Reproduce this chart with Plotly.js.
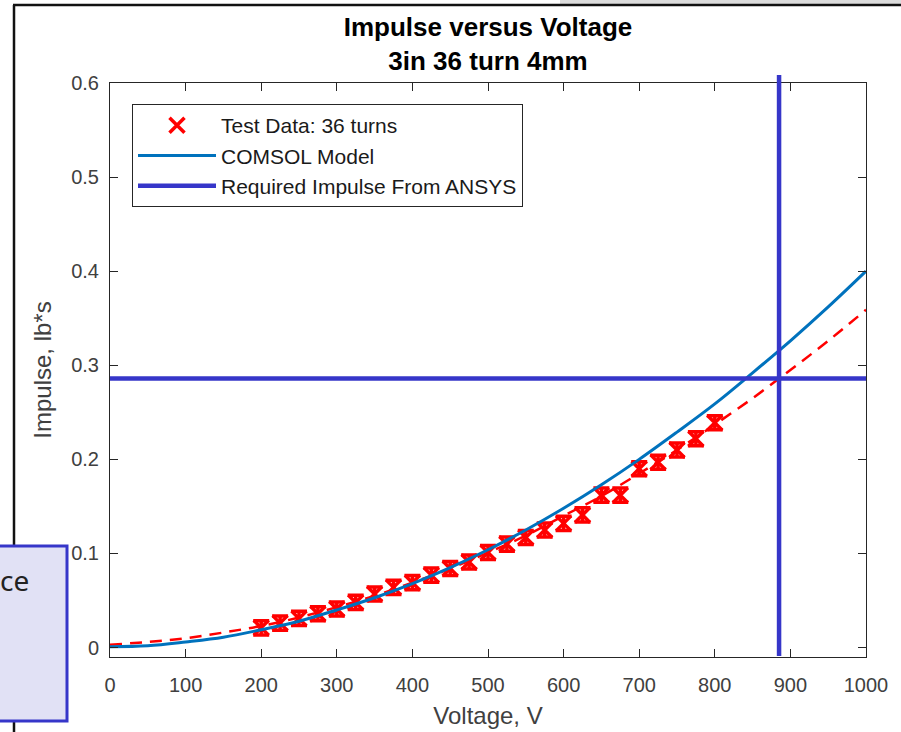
<!DOCTYPE html>
<html>
<head>
<meta charset="utf-8">
<script src="https://cdn.plot.ly/plotly-3.0.1.min.js"></script>
<style>html,body{margin:0;padding:0;background:#fff;}#chart{width:901px;height:732px;}</style>
</head>
<body>
<div id="chart"></div>
<script>
// ---- data ----
const testVoltage = [200,225,250,275,300,325,350,375,400,425,450,475,500,525,550,575,600,625,650,675,700,725,750,775,800];
const testImpulse = [0.021,0.026,0.031,0.036,0.041,0.048,0.057,0.064,0.069,0.077,0.084,0.091,0.101,0.110,0.117,0.125,0.132,0.141,0.162,0.162,0.190,0.197,0.210,0.222,0.239];
const testSpread  = [0.0075,0.0075,0.0075,0.0075,0.0075,0.0075,0.0075,0.0075,0.0075,0.0075,0.0075,0.0075,0.0075,0.0075,0.0075,0.0075,0.0075,0.0075,0.0075,0.0075,0.0075,0.0075,0.0075,0.0075,0.0075];

const curveVoltage = [0,50,100,150,200,250,300,350,400,450,500,550,600,650,700,750,800,850,900,950,1000];
const comsolImpulse = [0.001,0.002,0.006,0.011,0.019,0.028,0.040,0.053,0.068,0.085,0.104,0.125,0.148,0.173,0.200,0.229,0.259,0.292,0.326,0.362,0.400];
const fitImpulse    = [0.003,0.006,0.010,0.016,0.023,0.032,0.043,0.055,0.069,0.084,0.101,0.119,0.140,0.161,0.185,0.210,0.237,0.265,0.295,0.326,0.359];

const requiredVoltageRange = [0,1000];
const requiredImpulse = 0.286;
const requiredVoltage = 885;

const xTicks = [0,100,200,300,400,500,600,700,800,900,1000];
const yTicks = [0,0.1,0.2,0.3,0.4,0.5,0.6];
const yTickText = ['0','0.1','0.2','0.3','0.4','0.5','0.6'];

// ---- chart ----
const RED = '#ff0000', MBLUE = '#0072bd', ANSYS = '#3636c9', AX = '#262626';
const px = v => (v - 110) / 756;          // paper x for decorations
const py = v => (657 - v) / 574;          // paper y for decorations

const traces = [
  {
    x: curveVoltage, y: fitImpulse, type: 'scatter', mode: 'lines',
    showlegend: false, line: {color: RED, width: 2.5, dash: '12px,8px', shape: 'spline'}
  },
  {
    x: testVoltage, y: testImpulse, type: 'scatter', mode: 'markers',
    name: 'Test Data: 36 turns',
    marker: {symbol: 'x-thin-open', size: 15, color: RED, line: {color: RED, width: 3.5}},
    error_y: {type: 'data', array: testSpread, visible: true, color: RED, thickness: 3.5, width: 8}
  },
  {
    x: curveVoltage, y: comsolImpulse, type: 'scatter', mode: 'lines',
    name: 'COMSOL Model', line: {color: MBLUE, width: 3, shape: 'spline'}
  },
  {
    x: requiredVoltageRange, y: [requiredImpulse, requiredImpulse], type: 'scatter', mode: 'lines',
    name: 'Required Impulse From ANSYS', line: {color: ANSYS, width: 4.5}
  }
];

const tickFont = {family: 'Liberation Sans, Arial, sans-serif', size: 20, color: '#404040'};

const layout = {
  width: 901, height: 732,
  margin: {l: 110, r: 35, t: 83, b: 75},
  paper_bgcolor: '#ffffff', plot_bgcolor: '#ffffff',
  font: {family: 'Liberation Sans, Arial, sans-serif', color: AX},
  title: {
    text: '<b>Impulse versus Voltage</b><br><b>3in 36 turn 4mm</b>',
    font: {family: 'Liberation Sans, Arial, sans-serif', size: 26, color: '#000'},
    x: 0.5, xref: 'paper', xanchor: 'center',
    y: 1 - 36/732, yref: 'container', yanchor: 'top'
  },
  xaxis: {
    range: [0, 1000], tickvals: xTicks, ticktext: xTicks.map(String),
    ticks: 'inside', ticklen: 8, tickcolor: AX, tickwidth: 1,
    showline: true, linecolor: AX, linewidth: 1, mirror: 'allticks',
    showgrid: false, zeroline: false, tickfont: tickFont, ticklabelstandoff: 10,
    title: {text: 'Voltage, V', font: {size: 24, color: '#404040'}, standoff: 12},
    fixedrange: true
  },
  yaxis: {
    range: [-0.01, 0.6], tickvals: yTicks, ticktext: yTickText,
    ticks: 'inside', ticklen: 8, tickcolor: AX, tickwidth: 1,
    showline: true, linecolor: AX, linewidth: 1, mirror: 'allticks',
    showgrid: false, zeroline: false, tickfont: tickFont, ticklabelstandoff: 6,
    title: {text: 'Impulse, lb*s', font: {size: 24, color: '#404040'}, standoff: 12},
    fixedrange: true
  },
  legend: {
    x: px(132), y: py(104), xanchor: 'left', yanchor: 'top',
    bgcolor: '#ffffff', bordercolor: AX, borderwidth: 1,
    font: {size: 21, color: '#1a1a1a'}, itemwidth: 78, tracegroupgap: 0
  },
  shapes: [
    {type: 'rect', xref: 'paper', yref: 'paper', x0: px(560), x1: px(901), y0: py(5), y1: py(0), fillcolor: '#dcdcdc', line: {width: 0}, layer: 'below'},
    {type: 'line', xref: 'paper', yref: 'paper', x0: px(13), x1: px(901), y0: py(5), y1: py(5), line: {color: '#111', width: 2.5}},
    {type: 'line', xref: 'paper', yref: 'paper', x0: px(14), x1: px(14), y0: py(5), y1: py(732), line: {color: '#111', width: 2.5}},
    {type: 'line', xref: 'x', yref: 'paper', x0: requiredVoltage, x1: requiredVoltage, y0: py(656), y1: py(75), line: {color: ANSYS, width: 4.5}},
    {type: 'rect', xref: 'paper', yref: 'paper', x0: px(-5), x1: px(67), y0: py(721), y1: py(546), fillcolor: '#e1e1f5', line: {color: ANSYS, width: 3}}
  ],
  annotations: [
    {text: 'ce', xref: 'paper', yref: 'paper', x: px(31), y: py(580), xanchor: 'right', yanchor: 'middle',
     showarrow: false, font: {family: 'Noto Sans, sans-serif', size: 28, color: '#222'}}
  ]
};

Plotly.newPlot('chart', traces, layout, {displayModeBar: false, staticPlot: true});
</script>
</body>
</html>
